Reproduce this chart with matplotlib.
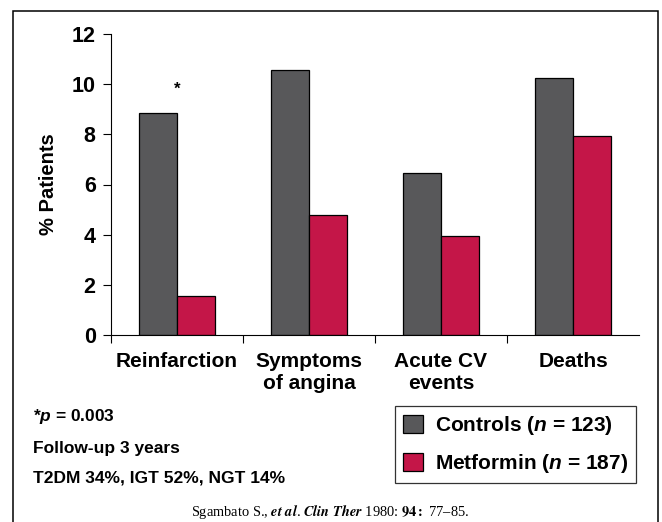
import numpy as np
import matplotlib
matplotlib.use('Agg')
import matplotlib.pyplot as plt
from matplotlib.patches import Rectangle

plt.rcParams['font.family'] = ['Liberation Sans', 'DejaVu Sans']
plt.rcParams['font.weight'] = 'bold'
plt.rcParams['mathtext.fontset'] = 'custom'
plt.rcParams['mathtext.it'] = 'Liberation Sans:italic:bold'
plt.rcParams['mathtext.rm'] = 'Liberation Sans:bold'

categories = ['Reinfarction', 'Symptoms\nof angina', 'Acute CV\nevents', 'Deaths']
controls = [8.86, 10.57, 6.46, 10.26]
metformin = [1.55, 4.78, 3.95, 7.93]
yticks = [0, 2, 4, 6, 8, 10, 12]

fig = plt.figure(figsize=(6.62, 5.22), dpi=100)
# axes box: x 111..639 px, y 34..335 px
ax = fig.add_axes([111 / 662, 1 - 335 / 522, 528 / 662, 301 / 522])

x = np.arange(len(categories))
w = 0.287
ax.bar(x - w / 2, controls, w, color='#58585a', edgecolor='black', linewidth=0.9,
       label='Controls ($n$ = 123)')
ax.bar(x + w / 2, metformin, w, color='#c41648', edgecolor='black', linewidth=0.9,
       label='Metformin ($n$ = 187)')

ax.text(0.0, 9.8, '*', ha='center', va='center', fontsize=12, fontweight='bold')

ax.set_xlim(-0.5, 3.5)
ax.set_ylim(0, 12)
ax.set_yticks(yticks)
ax.tick_params(axis='y', labelsize=15.5, length=6, width=0.8, pad=5)
ax.set_xticks([-0.5, 0.5, 1.5, 2.5])
ax.set_xticklabels([])
ax.tick_params(axis='x', which='major', length=6, width=0.8)
ax.set_xticks(x, minor=True)
ax.set_xticklabels(categories, minor=True, fontsize=15, linespacing=1.25, va='top')
ax.tick_params(axis='x', which='minor', length=0, pad=12)
for lbl in ax.get_yticklabels():
    lbl.set_fontweight('bold')
for s in ['top', 'right']:
    ax.spines[s].set_visible(False)
ax.spines['left'].set_linewidth(0.8)
ax.spines['bottom'].set_linewidth(0.8)
ax.set_ylabel('% Patients', fontsize=14.5, fontweight='bold', labelpad=10)

leg = fig.legend(loc='upper left', bbox_to_anchor=(395 / 662, 1 - 406 / 522),
                 fontsize=15, frameon=True, fancybox=False, edgecolor='black',
                 handlelength=0.95, handleheight=0.95, handletextpad=0.55,
                 borderpad=0.4, labelspacing=0.7, borderaxespad=0)
leg.get_frame().set_linewidth(0.9)

fig.text(33 / 662, 1 - 416 / 522, '*$p$ = 0.003', fontsize=12.5, fontweight='bold', va='center')
fig.text(33 / 662, 1 - 448 / 522, 'Follow-up 3 years', fontsize=12.5, fontweight='bold', va='center')
fig.text(33 / 662, 1 - 478 / 522, 'T2DM 34%, IGT 52%, NGT 14%', fontsize=12.5, fontweight='bold', va='center')
fig.text(330 / 662, 1 - 512 / 522,
         'Sgambato S., $\\mathit{et\\ al}$. $\\mathit{Clin\\ Ther}$ 1980: $\\mathbf{94{:}}$ 77\u201385.',
         fontsize=10.4, family='Liberation Serif', fontweight='normal', ha='center', va='center',
         math_fontfamily='stix')

frame = Rectangle((13 / 662, -0.1), (658 - 13) / 662, 1.1 - 11 / 522, transform=fig.transFigure,
                  fill=False, edgecolor='black', linewidth=1.1, clip_on=False)
fig.patches.append(frame)

fig.savefig('out.png', dpi=100)
